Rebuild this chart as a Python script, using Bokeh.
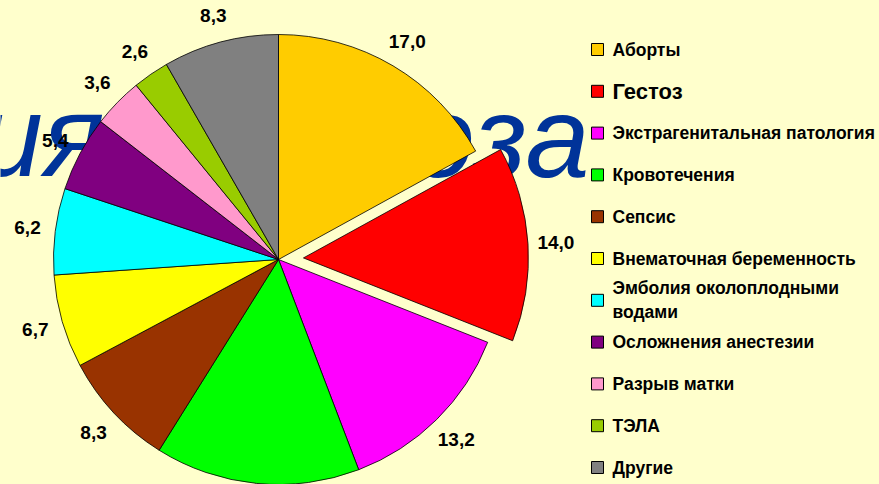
import math
from bokeh.plotting import figure
from bokeh.models import Range1d, ColumnDataSource
from bokeh.core.properties import value
from bokeh.embed import file_html
from bokeh.resources import INLINE

# ---- data ----
categories = ["Аборты", "Гестоз", "Экстрагенитальная патология", "Кровотечения",
              "Сепсис", "Внематочная беременность", "Эмболия околоплодными\nводами",
              "Осложнения анестезии", "Разрыв матки", "ТЭЛА", "Другие"]
values = [17.0, 14.0, 13.2, 14.7, 8.3, 6.7, 6.2, 5.4, 3.6, 2.6, 8.3]
colors = ["#FFCC00", "#FF0000", "#FF00FF", "#00FF00", "#993300", "#FFFF00",
          "#00FFFF", "#800080", "#FF99CC", "#99CC00", "#808080"]
exploded = [0, 1, 0, 0, 0, 0, 0, 0, 0, 0, 0]
title_parts = ["ия", "оза"]

BG = "#FFFFCC"
W, H = 879, 484
# data coords: x = page px, y = 484 - page px
def Y(py):
    return H - py

p = figure(width=W, height=H, x_range=Range1d(0, W), y_range=Range1d(0, H),
           output_backend="svg", toolbar_location=None, min_border=0)
p.axis.visible = False
p.grid.visible = False
p.outline_line_color = None
p.background_fill_color = BG
p.border_fill_color = BG

# background title text (behind pie)
p.text(x=[104, 589], y=[Y(135), Y(136)], text=title_parts, text_align="right",
       text_baseline="middle", text_font=value("Liberation Sans"),
       text_font_style="italic", text_font_size="115px", text_color="#003399")

# pie
cx, cy, R = 278, Y(259), 225
explode_px = 25
label_r = 253
total = sum(values)
xs, ys, sa, ea, lx, ly, lt = [], [], [], [], [], [], []
cum = 0.0
for v, ex in zip(values, exploded):
    a0 = math.pi / 2 - 2 * math.pi * cum / total
    cum += v
    a1 = math.pi / 2 - 2 * math.pi * cum / total
    mid = (a0 + a1) / 2
    ox = explode_px * math.cos(mid) * ex
    oy = explode_px * math.sin(mid) * ex
    xs.append(cx + ox)
    ys.append(cy + oy)
    sa.append(a0)
    ea.append(a1)
    tx = cx + ox + label_r * math.cos(mid)
    ty = cy + oy + label_r * math.sin(mid)
    if ty > 10:  # labels below the visible canvas are not shown in the reference
        lx.append(tx)
        ly.append(ty)
        lt.append(f"{v:.1f}".replace(".", ","))

src = ColumnDataSource(dict(x=xs, y=ys, start=sa, end=ea, color=colors))
p.wedge(x="x", y="y", radius=R, radius_units="screen", start_angle="start",
        end_angle="end", direction="clock", fill_color="color",
        line_color="black", line_width=0.8, source=src)

p.text(x=lx, y=ly, text=lt, text_align="center", text_baseline="middle",
       text_font=value("Liberation Sans"), text_font_style="bold",
       text_font_size="19px", text_color="black")

# legend
row0, step = 49, 41.8
ly_rows = [Y(row0 + i * step) for i in range(len(categories))]
p.scatter(x=[597] * len(categories), y=ly_rows, marker="square", size=12,
          fill_color=colors, line_color="black", line_width=1)
sizes = ["22px" if c == "Гестоз" else "17.5px" for c in categories]
tsrc = ColumnDataSource(dict(x=[612] * len(categories), y=ly_rows,
                             text=categories, size=sizes))
p.text(x="x", y="y", text="text", text_font_size="size", source=tsrc,
       text_align="left", text_baseline="middle", text_line_height=1.2,
       text_font=value("Liberation Sans"), text_font_style="bold",
       text_color="black")

html = file_html(p, INLINE).replace("<body>", '<body style="background:%s">' % BG)
open("out.html", "w").write(html)
